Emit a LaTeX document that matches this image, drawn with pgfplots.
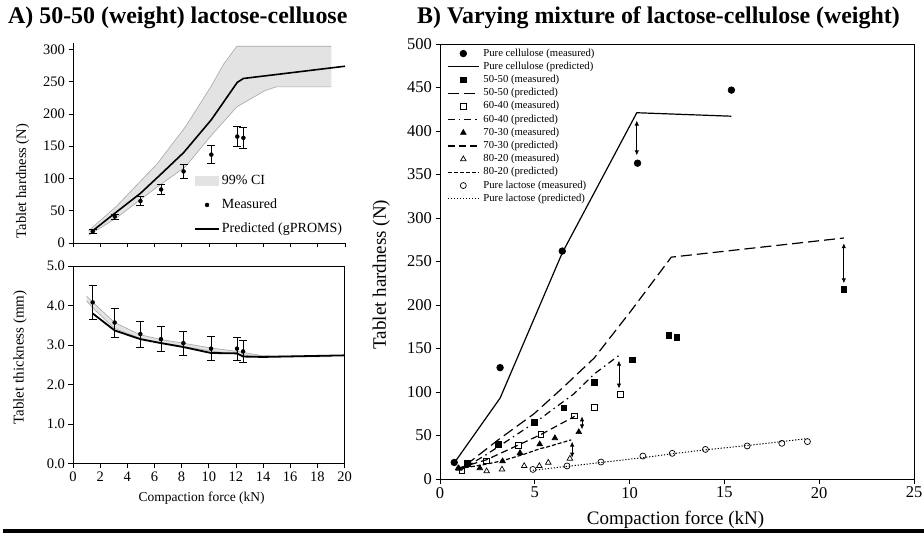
\documentclass[border=0pt]{standalone}
\usepackage{fontspec}
\setmainfont{Liberation Serif}
\usepackage{pgfplots}
\pgfplotsset{compat=1.18}
\usetikzlibrary{arrows.meta}

\newcommand{\fs}[1]{\fontsize{#1}{#1}\selectfont}

\pgfplotsset{
  common/.style={
    scale only axis, anchor=south west,
    tick align=outside, major tick length=4.5pt,
    xtick pos=left, ytick pos=left,
    /pgf/number format/assume math mode=true,
    axis line style={line width=0.8pt},
    every tick/.style={black, line width=0.8pt},
  },
  errs/.style={only marks, mark=*, mark size=2pt, black,
    error bars/.cd, y dir=both, y explicit, error mark=-,
    error mark options={solid, black, rotate=90, mark size=4pt, line width=0.8pt},
    error bar style={line width=0.8pt}},
}

\begin{document}
\begin{tikzpicture}
\path[use as bounding box] (0,0) rectangle (924pt,539pt);

% ---------- A, top: hardness ----------
\begin{axis}[common,
  at={(73pt,296pt)}, width=272pt, height=200pt,
  xmin=0, xmax=20, ymin=0, ymax=310,
  axis x line*=bottom, axis y line*=left,
  xtick={0,2,...,20}, xticklabels={}, ytick={0,50,...,300},
  tick label style={font=\fs{14.5}},
  ylabel={Tablet hardness (N)},
  ylabel style={font=\fs{14.5}, at={(axis description cs:-0.185,0.31)}, anchor=center},
  legend style={at={(axis description cs:0.445,0.345)}, anchor=north west,
    draw=none, fill=none, font=\fs{14}, row sep=10.5pt, inner sep=0pt,
    nodes={inner sep=0pt, text height=10pt, text depth=3.5pt},
    /tikz/every odd column/.append style={column sep=2pt}},
  legend cell align=left,
  legend image code/.code={\draw[mark repeat=2,mark phase=2,#1] plot coordinates {(0pt,0pt) (12pt,0pt) (24pt,0pt)};},
]
\addplot[fill=gray!22, draw=none,
  legend image code/.code={\fill[gray!22] (0pt,-5pt) rectangle (24pt,5pt);}] coordinates {
(1.15,19) (3.2,57) (6.2,123) (8.26,180) (10.1,241) (11.1,278) (12.05,305) (19.0,305)
(19.0,242) (14.95,242) (14.1,236) (12.05,211) (10.1,165) (8.26,118) (6.2,87) (3.2,39) (1.15,12)
} -- cycle;
\addlegendentry{99\% CI}
\addplot[gray!70, line width=0.6pt, forget plot] coordinates {
(1.15,19) (3.2,57) (6.2,123) (8.26,180) (10.1,241) (11.1,278) (12.05,305) (19.0,305)};
\addplot[gray!70, line width=0.6pt, forget plot] coordinates {
(1.15,12) (3.2,39) (6.2,87) (8.26,118) (10.1,165) (12.05,211) (14.1,236) (14.95,242) (19.0,242)};
\addplot[errs] coordinates {
(1.45,18) +- (0,3)
(3.07,41) +- (0,4)
(4.96,65) +- (0,7)
(6.48,83) +- (0,8)
(8.13,111) +- (0,11)
(10.17,137) +- (0,14)
(12.08,165) +- (0,16)
(12.53,163) +- (0,16)
};
\addlegendentry{Measured}
\addplot[black, line width=1.6pt] coordinates {
(1.45,19) (3.07,46) (4.96,77) (6.48,107) (8.13,140) (10.17,191) (12.08,249) (12.53,255) (20,274)};
\addlegendentry{Predicted (gPROMS)}
\end{axis}

% ---------- A, bottom: thickness ----------
\begin{axis}[common,
  at={(73pt,75.3pt)}, width=271.5pt, height=197.7pt,
  xmin=0, xmax=20, ymin=0, ymax=5,
  xtick={0,2,...,20}, ytick={0,1,...,5},
  yticklabel style={/pgf/number format/.cd, fixed, fixed zerofill, precision=1},
  tick label style={font=\fs{14.5}},
  xlabel={Compaction force (kN)},
  xlabel style={font=\fs{13.5}, at={(axis description cs:0.474,-0.173)}, anchor=center},
  ylabel={Tablet thickness (mm)},
  ylabel style={font=\fs{15}, at={(axis description cs:-0.195,0.537)}, anchor=center},
]
\addplot[fill=gray!22, draw=none] coordinates {
(1.0,4.24) (1.5,4.07) (3.07,3.57) (4.96,3.26) (6.5,3.14) (8.1,3.05) (10.1,2.93) (12.1,2.84) (14,2.73) (19,2.72)
(19,2.70) (14,2.70) (12.1,2.77) (10.1,2.85) (8.1,2.97) (6.5,3.06) (4.96,3.17) (3.07,3.42) (1.5,3.92) (1.0,4.12)
} -- cycle;
\addplot[gray!70, line width=0.6pt] coordinates {
(1.0,4.24) (1.5,4.07) (3.07,3.57) (4.96,3.26) (6.5,3.14) (8.1,3.05) (10.1,2.93) (12.1,2.84) (14,2.73) (19,2.72)};
\addplot[gray!70, line width=0.6pt] coordinates {
(1.0,4.12) (1.5,3.92) (3.07,3.42) (4.96,3.17) (6.5,3.06) (8.1,2.97) (10.1,2.85) (12.1,2.77) (14,2.70) (19,2.70)};
\addplot[black, line width=1.8pt] coordinates {
(1.45,3.80) (3.07,3.37) (4.96,3.15) (6.48,3.05) (8.13,2.95) (10.17,2.80) (12.08,2.79) (12.53,2.71) (14,2.70) (20,2.74)};
\addplot[errs] coordinates {
(1.45,4.08) +- (0,0.42)
(3.07,3.57) +- (0,0.37)
(4.96,3.28) +- (0,0.33)
(6.48,3.15) +- (0,0.32)
(8.13,3.05) +- (0,0.30)
(10.17,2.91) +- (0,0.30)
(12.08,2.91) +- (0,0.29)
(12.53,2.84) +- (0,0.29)
};
\end{axis}

% ---------- B ----------
\begin{axis}[common,
  at={(440pt,60pt)}, width=474pt, height=435pt,
  xmin=0, xmax=25, ymin=0, ymax=500,
  xtick={0,5,...,25}, ytick={0,50,...,500},
  tick label style={font=\fs{16.5}},
  xlabel={Compaction force (kN)},
  xlabel style={font=\fs{19}, at={(axis description cs:0.497,-0.094)}, anchor=center},
  ylabel={Tablet hardness (N)},
  ylabel style={font=\fs{19}, at={(axis description cs:-0.124,0.47)}, anchor=center},
  legend style={at={(axis description cs:0.0148,0.99)}, anchor=north west,
    draw=none, fill=none, font=\fs{10.7}, row sep=3.2pt, inner sep=0pt,
    nodes={inner sep=0pt, text height=7.5pt, text depth=2.5pt},
    /tikz/every odd column/.append style={column sep=4pt}},
  legend cell align=left,
  legend image code/.code={\draw[mark repeat=2,mark phase=2,#1] plot coordinates {(0pt,0pt) (15.5pt,0pt) (31pt,0pt)};},
  every axis plot/.append style={line width=1.2pt},
  mark options={solid, line width=0.7pt},
]
% pure cellulose
\addplot[only marks, mark=*, mark size=3.3pt] coordinates {
(0.75,19) (3.17,128) (6.45,262) (10.42,363) (15.37,447)};
\addlegendentry{Pure cellulose (measured)}
\addplot[black] coordinates {
(0.77,19) (3.17,93) (6.45,260) (10.38,421) (15.37,417)};
\addlegendentry{Pure cellulose (predicted)}
% 50-50
\addplot[only marks, mark=square*, mark size=2.8pt] coordinates {
(1.45,18) (3.08,40) (4.98,65) (6.53,82) (8.14,111) (10.14,137) (12.08,165) (12.5,163) (21.3,218)};
\addlegendentry{50-50 (measured)}
\addplot[black, dash pattern=on 11pt off 5pt] coordinates {
(1.36,16) (3.07,45) (4.96,75) (6.48,105) (8.13,139) (10.1,194) (12.2,255) (21.3,277)};
\addlegendentry{50-50 (predicted)}
% 60-40
\addplot[only marks, mark=square, mark size=2.8pt] coordinates {
(1.15,10) (2.44,21) (4.12,39) (5.32,51.5) (7.08,72.5) (8.15,82.4) (9.5,97)};
\addlegendentry{60-40 (measured)}
\addplot[black, dash pattern=on 7pt off 4pt on 1.5pt off 4pt] coordinates {
(1.15,11) (2.44,28) (4.11,52) (5.33,70) (7.07,98) (8.15,121) (9.5,143)};
\addlegendentry{60-40 (predicted)}
% 70-30
\addplot[only marks, mark=triangle*, mark size=3.2pt] coordinates {
(0.96,12.5) (2.1,12.5) (3.3,20.5) (4.22,30) (5.26,40) (6.06,47) (7.32,54)};
\addlegendentry{70-30 (measured)}
\addplot[black, dash pattern=on 7pt off 4pt] coordinates {
(1.05,13) (2.44,22) (4.13,39) (5.31,51) (7.1,72)};
\addlegendentry{70-30 (predicted)}
% 80-20
\addplot[only marks, mark=triangle, mark size=3.2pt] coordinates {
(1.0,12) (2.46,9) (3.27,11) (4.44,15) (5.24,15) (5.71,18.8) (6.85,23.5)};
\addlegendentry{80-20 (measured)}
\addplot[black, dash pattern=on 4pt off 2pt] coordinates {
(1.0,12) (2.2,16) (3.3,21) (4.44,28.5) (5.3,35) (5.6,36.5) (6.92,45)};
\addlegendentry{80-20 (predicted)}
% pure lactose
\addplot[only marks, mark=o, mark size=3pt] coordinates {
(4.9,11) (6.7,15) (8.49,19.5) (10.7,26.4) (12.25,29.5) (14.0,34) (16.2,38) (18.03,41) (19.38,43)};
\addlegendentry{Pure lactose (measured)}
\addplot[black, line width=1pt, dash pattern=on 1.2pt off 1.8pt] coordinates {
(4.9,10) (6.7,14.5) (8.49,19) (10.7,24.5) (12.25,29) (14.0,33.5) (16.2,38.5) (18.03,43) (19.38,46.5)};
\addlegendentry{Pure lactose (predicted)}
% difference arrows
\addplot[black, line width=0.8pt, {Latex[length=5pt,width=4.5pt]}-{Latex[length=5pt,width=4.5pt]}, forget plot]
  coordinates {(10.38,412) (10.38,372)};
\addplot[black, line width=0.8pt, {Latex[length=5pt,width=4.5pt]}-{Latex[length=5pt,width=4.5pt]}, forget plot]
  coordinates {(21.3,271) (21.3,225)};
\addplot[black, line width=0.8pt, {Latex[length=5pt,width=4.5pt]}-{Latex[length=5pt,width=4.5pt]}, forget plot]
  coordinates {(9.44,136) (9.44,104)};
\addplot[black, line width=0.8pt, {Latex[length=5pt,width=4.5pt]}-{Latex[length=5pt,width=4.5pt]}, forget plot]
  coordinates {(7.49,72) (7.49,57)};
\addplot[black, line width=0.8pt, {Latex[length=5pt,width=4.5pt]}-{Latex[length=5pt,width=4.5pt]}, forget plot]
  coordinates {(6.97,43) (6.97,24.5)};
\end{axis}

% titles and rule
\node[anchor=base west, inner sep=0pt, font=\fs{23.9}\bfseries] at (8pt,515pt) {A) 50-50 (weight) lactose-celluose};
\node[anchor=base west, inner sep=0pt, font=\fs{23.9}\bfseries] at (417pt,515pt) {B) Varying mixture of lactose-cellulose (weight)};
\draw[line width=3.5pt] (3pt,8pt) -- (924pt,8pt);
\end{tikzpicture}
\end{document}
